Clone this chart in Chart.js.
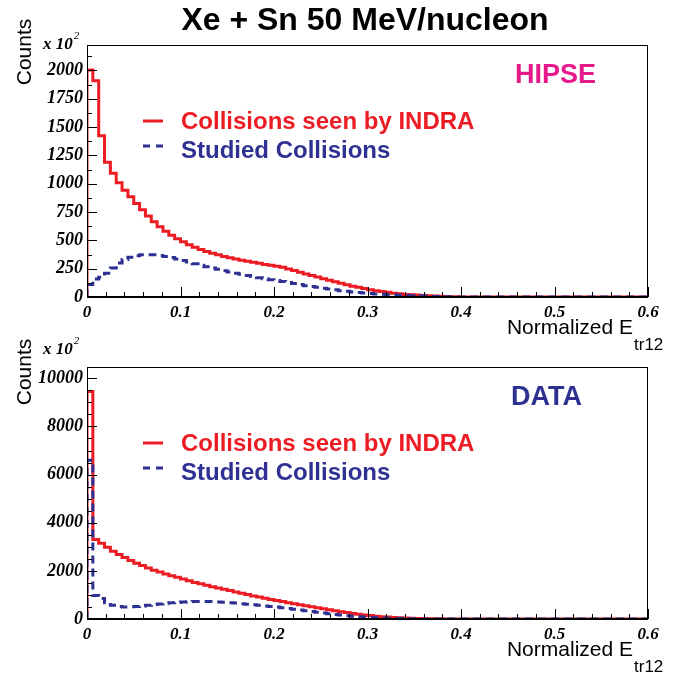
<!DOCTYPE html>
<html>
<head>
<meta charset="utf-8">
<script src="https://cdn.jsdelivr.net/npm/chart.js@4.4.1/dist/chart.umd.min.js"></script>
<style>
  html, body { margin: 0; padding: 0; background: #fff; }
  #wrap { position: relative; width: 689px; height: 674px; overflow: hidden; }
  canvas { position: absolute; left: 0; }
</style>
</head>
<body>
<div id="wrap">
  <canvas id="topChart" width="689" height="360" style="top:0"></canvas>
  <canvas id="bottomChart" width="689" height="344" style="top:330px"></canvas>
</div>
<script>
// histogram binning (96 bins of 0.00625 from 0 to 0.6)
const binWidth = 0.00625;
const xMin = 0;
const xMax = 0.6;
const xTicks = [0, 0.1, 0.2, 0.3, 0.4, 0.5, 0.6];
const hipseYTicks = [0, 250, 500, 750, 1000, 1250, 1500, 1750, 2000];
const dataYTicks = [0, 2000, 4000, 6000, 8000, 10000];

// HIPSE panel, counts x 10^2
const hipseSeen = [
  2005, 1910, 1423, 1190, 1092, 1008, 943, 885, 825, 770,
  715, 665, 620, 580, 545, 515, 488, 462, 440, 420,
  402, 386, 372, 358, 346, 335, 325, 315, 306, 297,
  288, 280, 271, 262, 248, 233, 218, 204, 190, 176,
  162, 148, 134, 121, 108, 96, 85, 75, 65, 56,
  48, 41, 34, 28, 23, 19, 17, 13, 10, 8,
  6, 4, 3, 2, 1, 1, 0, 0, 0, 0,
  0, 0, 0, 0, 0, 0, 0, 0, 0, 0,
  0, 0, 0, 0, 0, 0, 0, 0, 0, 0,
  0, 0, 0, 0, 0, 0
];
const hipseStudied = [
  110, 160, 175, 210, 255, 300, 330, 350, 365, 372,
  374, 372, 366, 358, 348, 336, 322, 308, 294, 280,
  268, 256, 244, 232, 221, 210, 200, 190, 180, 171,
  162, 153, 145, 137, 129, 120, 110, 100, 92, 85,
  77, 70, 63, 56, 50, 44, 40, 35, 31, 27,
  24, 21, 19, 16, 14, 12, 10, 8, 6, 5,
  4, 3, 2, 1, 1, 0, 0, 0, 0, 0,
  0, 0, 0, 0, 0, 0, 0, 0, 0, 0,
  0, 0, 0, 0, 0, 0, 0, 0, 0, 0,
  0, 0, 0, 0, 0, 0
];

// DATA panel, counts x 10^2
const dataSeen = [
  9450, 3300, 3150, 2980, 2820, 2680, 2550, 2430, 2320, 2220,
  2120, 2030, 1950, 1870, 1800, 1730, 1660, 1590, 1520, 1460,
  1400, 1345, 1290, 1235, 1180, 1125, 1070, 1015, 960, 910,
  860, 815, 770, 725, 680, 635, 593, 550, 508, 466,
  425, 385, 345, 305, 268, 232, 200, 170, 143, 118,
  96, 78, 62, 49, 38, 29, 22, 16, 12, 9,
  6, 4, 3, 2, 1, 0, 0, 0, 0, 0,
  0, 0, 0, 0, 0, 0, 0, 0, 0, 0,
  0, 0, 0, 0, 0, 0, 0, 0, 0, 0,
  0, 0, 0, 0, 0, 0
];
const dataStudied = [
  6600, 980, 850, 680, 570, 520, 500, 505, 520, 545,
  570, 600, 625, 650, 670, 690, 705, 718, 728, 732,
  730, 722, 710, 695, 678, 660, 638, 615, 592, 568,
  545, 520, 495, 468, 440, 410, 378, 345, 312, 280,
  248, 218, 190, 163, 138, 115, 95, 78, 63, 50,
  40, 31, 24, 18, 13, 10, 7, 5, 3, 2,
  1, 0, 0, 0, 0, 0, 0, 0, 0, 0,
  0, 0, 0, 0, 0, 0, 0, 0, 0, 0,
  0, 0, 0, 0, 0, 0, 0, 0, 0, 0,
  0, 0, 0, 0, 0, 0
];

const legendLabels = ['Collisions seen by INDRA', 'Studied Collisions'];
const title = 'Xe + Sn 50 MeV/nucleon';

const RED = '#ec1c24';
const BLUE = '#2e3192';
const MAGENTA = '#e6198b';
const SANS = '"Liberation Sans", Arial, Helvetica, sans-serif';
const SERIF = '"Liberation Serif", "Times New Roman", serif';

// ROOT-like step histogram: left edge of every bin, closed at x = 0 and x = 0.6
const toSteps = (values) => {
  const pts = [{ x: xMin, y: 0 }];
  values.forEach((v, i) => pts.push({ x: xMin + i * binWidth, y: v }));
  pts.push({ x: xMax, y: values[values.length - 1] });
  return pts;
};

const text = (ctx, str, x, y, font, color, align = 'left') => {
  ctx.font = font;
  ctx.fillStyle = color;
  ctx.textAlign = align;
  ctx.textBaseline = 'middle';
  ctx.fillText(str, x, y);
};

const framePlugin = {
  id: 'rootFrame',
  afterDatasetsDraw(chart, args, opts) {
    const { ctx, chartArea: a, scales: { x, y } } = chart;
    ctx.save();
    ctx.strokeStyle = '#000';
    ctx.lineWidth = 1;
    ctx.beginPath();
    for (let i = 0; i <= 30; i++) {
      const px = Math.round(x.getPixelForValue(i * 0.02)) + 0.5;
      const len = i % 5 === 0 ? 10 : 5;
      ctx.moveTo(px, a.bottom);
      ctx.lineTo(px, a.bottom - len);
    }
    for (let i = 0; i * opts.yMinor <= y.max; i++) {
      const py = Math.round(y.getPixelForValue(i * opts.yMinor)) + 0.5;
      const len = i % opts.yMajorEvery === 0 ? 10 : 5;
      ctx.moveTo(a.left, py);
      ctx.lineTo(a.left + len, py);
    }
    ctx.stroke();
    ctx.strokeRect(a.left + 0.5, a.top + 0.5, a.right - a.left - 1, a.bottom - a.top);
    ctx.lineWidth = 2;
    ctx.beginPath();
    ctx.moveTo(a.left, a.bottom);
    ctx.lineTo(a.right, a.bottom);
    ctx.stroke();
    ctx.restore();
  },
  afterDraw(chart, args, opts) {
    const ctx = chart.ctx;
    const o = opts.offset;
    ctx.save();
    if (opts.title) {
      text(ctx, opts.title, 365, 21 - o, `bold 32px ${SANS}`, '#000', 'center');
    }
    // y title
    ctx.save();
    ctx.translate(25, opts.countsY - o);
    ctx.rotate(-Math.PI / 2);
    text(ctx, 'Counts', 0, 0, `21px ${SANS}`, '#000', 'center');
    ctx.restore();
    // exponent
    text(ctx, 'x 10', 43, opts.expY - o, `bold italic 17px ${SERIF}`, '#000');
    const w = ctx.measureText('x 10').width;
    text(ctx, '2', 43 + w + 1, opts.expY - 9 - o, `italic 11px ${SERIF}`, '#000');
    // x title
    text(ctx, 'Normalized E', 633, opts.xTitleY - o, `21px ${SANS}`, '#000', 'right');
    text(ctx, 'tr12', 634, opts.xTitleY + 17 - o, `17px ${SANS}`, '#000');
    // label
    text(ctx, opts.label, opts.labelX, opts.labelY - o, `bold 27px ${SANS}`, opts.labelColor);
    // legend
    ctx.lineWidth = 3;
    ctx.strokeStyle = RED;
    ctx.beginPath();
    ctx.moveTo(143, opts.legendY - o);
    ctx.lineTo(163, opts.legendY - o);
    ctx.stroke();
    ctx.strokeStyle = BLUE;
    ctx.setLineDash([7, 6]);
    ctx.beginPath();
    ctx.moveTo(143, opts.legendY + 25 - o);
    ctx.lineTo(164, opts.legendY + 25 - o);
    ctx.stroke();
    ctx.setLineDash([]);
    text(ctx, legendLabels[0], 181, opts.legendY + 1 - o, `bold 24px ${SANS}`, RED);
    text(ctx, legendLabels[1], 181, opts.legendY + 30 - o, `bold 24px ${SANS}`, BLUE);
    ctx.restore();
  }
};

const makePanel = (id, seen, studied, yTicks, p) => {
  const tickFont = { family: SERIF, size: 17, weight: 'bold', style: 'italic' };
  return new Chart(document.getElementById(id), {
    type: 'line',
    data: {
      datasets: [
        {
          label: legendLabels[1],
          data: toSteps(studied),
          borderColor: BLUE,
          borderWidth: 3,
          borderDash: [8, 5],
          stepped: 'before',
          pointRadius: 0,
          fill: false,
          order: 0,
        },
        {
          label: legendLabels[0],
          data: toSteps(seen),
          borderColor: RED,
          borderWidth: 3,
          stepped: 'before',
          pointRadius: 0,
          fill: false,
          order: 1,
        },
      ],
    },
    options: {
      responsive: false,
      animation: false,
      events: [],
      layout: { padding: { top: p.top, right: 41, left: 0, bottom: 0 } },
      plugins: {
        legend: { display: false },
        tooltip: { enabled: false },
        rootFrame: p,
      },
      scales: {
        x: {
          type: 'linear',
          min: xMin,
          max: xMax,
          grid: { display: false },
          border: { display: false },
          afterBuildTicks: (s) => { s.ticks = xTicks.map((v) => ({ value: v })); },
          ticks: {
            maxRotation: 0,
            autoSkip: false,
            padding: -3,
            color: '#000',
            font: tickFont,
            callback: (v) => String(v),
          },
          afterFit: (s) => { s.height = p.xAxisH; },
        },
        y: {
          min: 0,
          max: p.yMax,
          grid: { display: false, drawTicks: false },
          border: { display: false },
          afterBuildTicks: (s) => { s.ticks = yTicks.map((v) => ({ value: v })); },
          ticks: {
            autoSkip: false,
            padding: 4,
            color: '#000',
            font: { ...tickFont, size: 18 },
            callback: (v) => String(v),
          },
          afterFit: (s) => { s.width = 87; },
        },
      },
    },
    plugins: [framePlugin],
  });
};

makePanel('topChart', hipseSeen, hipseStudied, hipseYTicks, {
  top: 45, xAxisH: 63, yMax: 2225, yMinor: 125, yMajorEvery: 2,
  offset: 0, title: title, countsY: 52, expY: 45, xTitleY: 328,
  label: 'HIPSE', labelX: 515, labelY: 76, labelColor: MAGENTA, legendY: 121,
});

makePanel('bottomChart', dataSeen, dataStudied, dataYTicks, {
  top: 37, xAxisH: 55, yMax: 10470, yMinor: 500, yMajorEvery: 4,
  offset: 330, title: null, countsY: 372, expY: 350, xTitleY: 650,
  label: 'DATA', labelX: 511, labelY: 398, labelColor: BLUE, legendY: 443,
});
</script>
</body>
</html>
